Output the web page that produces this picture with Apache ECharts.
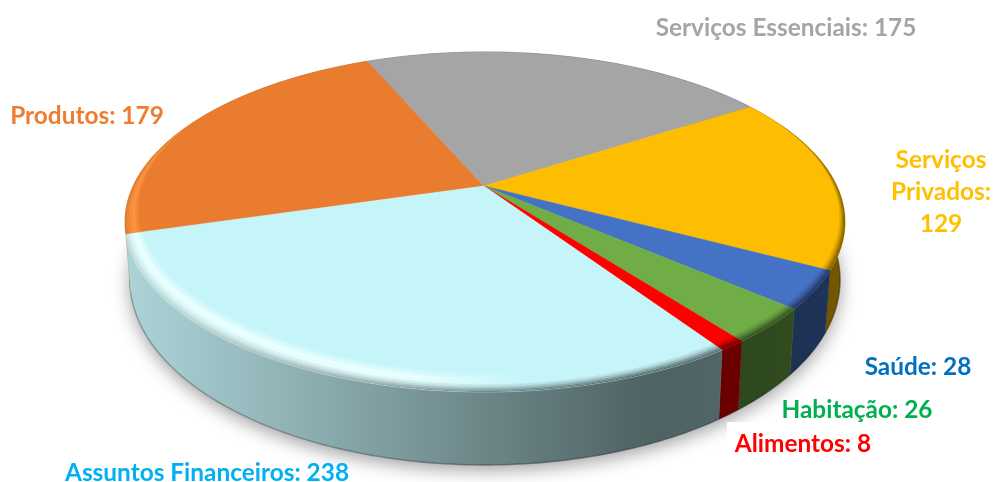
<!DOCTYPE html>
<html><head><meta charset="utf-8">
<style>html,body{margin:0;padding:0;background:#fff}#c{width:995px;height:482px}</style>
<script src="https://cdn.jsdelivr.net/npm/echarts@6/dist/echarts.min.js"></script>
</head><body><div id="c"></div>
<script>
const categories = ['Produtos','Serviços Essenciais','Serviços Privados','Saúde','Habitação','Alimentos','Assuntos Financeiros'];
const values = [179,175,129,28,26,8,238];
const sliceColors = ['#EA7C30','#A5A5A5','#FDBD00','#4472C4','#70AD47','#FF0000','#C6F5F9'];
const labelColors = ['#ED7D31','#A5A5A5','#FFC000','#0070C0','#00B050','#FF0000','#00B0F0'];
const labelLines = [null,null,['Serviços','Privados:'],null,null,null,null];
const labelAnchors = [[87,116],[786,28],[941,192],[918,367],[857,410],[803,444],[207,473]];

const START = -104.8, CX = 485, P = 0.2117;
const TOP = {ay:186, rt:162.4, r:351.8};
const BOT = {ay:240.8, rt:176.7, r:347};
const total = values.reduce((a,b)=>a+b,0);
// small view-angle calibration of the projection (degrees)
const warpKnots = [[-104.8,-1.4],[-22.5,-1],[58,-.8],[117.3,.7],[145.8,.5],[255.2,-1.4]];
function warp(deg){
  let d = deg; while(d < -104.8) d += 360; while(d > 255.2) d -= 360;
  for(let i=0;i<warpKnots.length-1;i++){
    const [x0,y0] = warpKnots[i], [x1,y1] = warpKnots[i+1];
    if(d <= x1) return deg + y0 + (y1-y0)*(d-x0)/(x1-x0);
  }
  return deg - 1.4;
}
function project(pl, deg, rad){
  const t = warp(deg)*Math.PI/180, u = Math.sin(t)*rad, v = -Math.cos(t)*rad, s = 1/(1-P*v);
  return [CX + pl.r*u*s, pl.ay + pl.rt*v*s];
}
function taper(deg){
  const v = -Math.cos(deg*Math.PI/180);
  if(v < -0.45) return 0;
  if(v < 0) return 0.36*(v+0.45)/0.45;
  return 0.36 + 0.64*Math.min(1, v/0.8);
}
function arc(pl, a, b, rad){
  const n = Math.max(2, Math.ceil(Math.abs(b-a))), out = [];
  for(let i=0;i<=n;i++) out.push(project(pl, a+(b-a)*i/n, rad));
  return out;
}
function bandArc(a, b, rad){
  const n = Math.max(2, Math.ceil(Math.abs(b-a))), out = [];
  for(let i=0;i<=n;i++){
    const d = a+(b-a)*i/n;
    out.push(project(TOP, d, 1-(1-rad)*taper(d)));
  }
  return out;
}
function hex(c){return [1,3,5].map(i=>parseInt(c.substr(i,2),16));}
const wallStops = [[125,.87],[300,.72],[480,.55],[650,.40],[760,.42],[845,.46]];
function gradient(stops){
  return {type:'linear',global:true,x:125,y:0,x2:845,y2:0,colorStops:stops};
}
function wallFill(c){
  const rgb = hex(c);
  return gradient(wallStops.map(([x,f])=>({offset:(x-125)/720,
      color:`rgb(${rgb.map(k=>Math.round(k*f)).join(',')})`})));
}
function hiFill(c,w){
  const l = hex(c).map(k=>Math.min(255,Math.round(k*1.14+8))).join(',');
  return gradient([
    {offset:0,color:`rgba(${l},${w})`},
    {offset:.40,color:`rgba(${l},${w})`},
    {offset:.56,color:`rgba(${l},0)`},{offset:1,color:`rgba(${l},0)`}]);
}
function darkFill(w){
  return gradient(wallStops.map(([x,f])=>({offset:(x-125)/720,color:`rgba(0,0,0,${((1-f)*w).toFixed(3)})`})));
}
const hiBands = [[.925,.935,.3],[.935,.945,.6],[.945,.96,1],[.96,.97,.9],[.97,1,.75]];
const darkBands = [[.97,.978,.15],[.978,.985,.35],[.985,.991,.6],[.991,.996,.8],[.996,1,.95]];

function renderItem(params, api){
  const i = params.dataIndex, value = api.value(0), kids = [];
  let before = 0; for(let k=0;k<i;k++) before += values[k];
  const a = START + before/total*360, b = a + value/total*360, col = sliceColors[i];
  if(i===0){
    kids.push({type:'polygon',z2:1,shape:{points:arc(BOT,0,360,1)},
      style:{fill:'#fff',shadowBlur:18,shadowColor:'rgba(0,0,0,.38)',shadowOffsetY:5}});
  }
  const wall = arc(TOP,a,b,1).concat(arc(BOT,b,a,1));
  kids.push({type:'polygon',z2:2,shape:{points:wall},style:{fill:wallFill(col),stroke:wallFill(col),lineWidth:.5}});
  kids.push({type:'polyline',z2:2,shape:{points:arc(BOT,a,b,1)},style:{fill:null,stroke:'rgba(0,0,0,.28)',lineWidth:1.5}});
  const face = [[484,186]].concat(arc(TOP,a,b,1));
  kids.push({type:'polygon',z2:3,shape:{points:face},style:{fill:col,stroke:col,lineWidth:.5}});
  const ring = (r0,r1,fill,z)=>({type:'polygon',z2:z,shape:{points:bandArc(a,b,r1).concat(bandArc(b,a,r0))},style:{fill}});
  hiBands.forEach(([r0,r1,w])=>kids.push(ring(r0,r1,hiFill(col,w),4)));
  darkBands.forEach(([r0,r1,w])=>kids.push(ring(r0,r1,darkFill(w),5)));
  const multi = !!labelLines[i];
  const text = multi ? labelLines[i].concat([String(value)]).join('\n') : categories[i]+': '+value;
  const boxed = categories[i]==='Alimentos';
  kids.push({type:'text',z2:10,x:labelAnchors[i][0],y:labelAnchors[i][1],
    style:Object.assign({text,fill:labelColors[i],font:'bold 24.4px Lato',align:'center',verticalAlign:'middle',
      lineHeight:multi?32:26}, boxed?{backgroundColor:'#fff',padding:[9,8,9,8]}:{})});
  return {type:'group',children:kids};
}
const chart = echarts.init(document.getElementById('c'),null,{renderer:'canvas'});
chart.setOption({animation:false,backgroundColor:'#fff',
  series:[{type:'custom',coordinateSystem:'none',renderItem,silent:true,
    data:values.map((v,i)=>({name:categories[i],value:[v]}))}]});
</script></body></html>
